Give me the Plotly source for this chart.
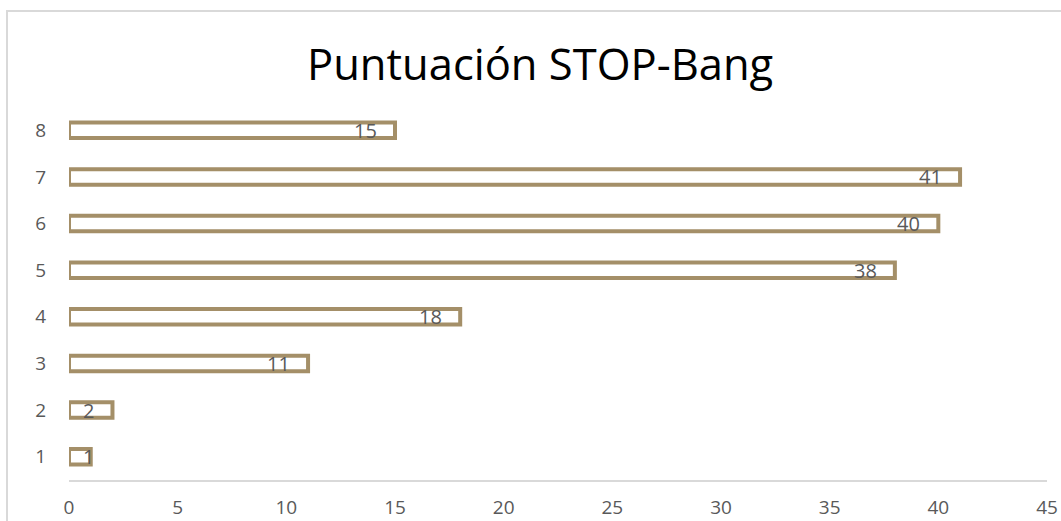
import plotly.graph_objects as go

categories = ["1", "2", "3", "4", "5", "6", "7", "8"]
values = [1, 2, 11, 18, 38, 40, 41, 15]
x_ticks = [0, 5, 10, 15, 20, 25, 30, 35, 40, 45]
title_text = "Puntuación STOP-Bang"

W, H = 1061, 521
L, R, T, B = 69, 14, 107, 41
pw = W - L - R
ph = H - T - B

bar_color = "#A48F68"
label_color = "#595959"
font_family = "Open Sans"

fig = go.Figure()
fig.add_trace(go.Bar(
    y=categories,
    x=values,
    orientation="h",
    marker=dict(color="white", line=dict(color=bar_color, width=4)),
    hoverinfo="skip",
))

# data labels (inside end)
for i, v in enumerate(values):
    fig.add_annotation(
        x=max(v, 2), y=i, xref="x", yref="y",
        text=str(v), showarrow=False,
        xanchor="right", yanchor="middle", xshift=-16,
        font=dict(family=font_family, size=20, color=label_color),
    )

# title
fig.add_annotation(
    x=(540 - L) / pw, y=(H - B - 64) / ph,
    xref="paper", yref="paper", text=title_text, showarrow=False,
    xanchor="center", yanchor="middle",
    font=dict(family=font_family, size=43.5, color="#000000"),
)

# outer chart border
fig.add_shape(
    type="rect", xref="paper", yref="paper",
    x0=(7 - L) / pw, x1=(W + 5 - L) / pw,
    y0=(H - B - (H + 5)) / ph, y1=(H - B - 11) / ph,
    line=dict(color="#D9D9D9", width=2), fillcolor="rgba(0,0,0,0)", layer="below",
)

fig.update_layout(
    width=W, height=H,
    margin=dict(l=L, r=R, t=T, b=B, pad=0, autoexpand=False),
    paper_bgcolor="white", plot_bgcolor="white",
    showlegend=False, bargap=0.67,
    font=dict(family=font_family, color=label_color),
)
fig.update_xaxes(
    range=[0, 45], tickvals=x_ticks, showgrid=False, zeroline=False,
    showline=True, linecolor="#D9D9D9", linewidth=2,
    ticks="", ticklabelstandoff=9, automargin=False,
    tickfont=dict(family=font_family, size=19, color=label_color),
)
fig.update_yaxes(
    categoryorder="array", categoryarray=categories,
    showgrid=False, zeroline=False, showline=False, ticks="",
    ticklabelstandoff=22, automargin=False,
    tickfont=dict(family=font_family, size=19, color=label_color),
)

fig.write_html(
    "out.html",
    config={"displayModeBar": False},
    post_script="document.body.style.margin='0';document.body.style.overflow='hidden';",
)
